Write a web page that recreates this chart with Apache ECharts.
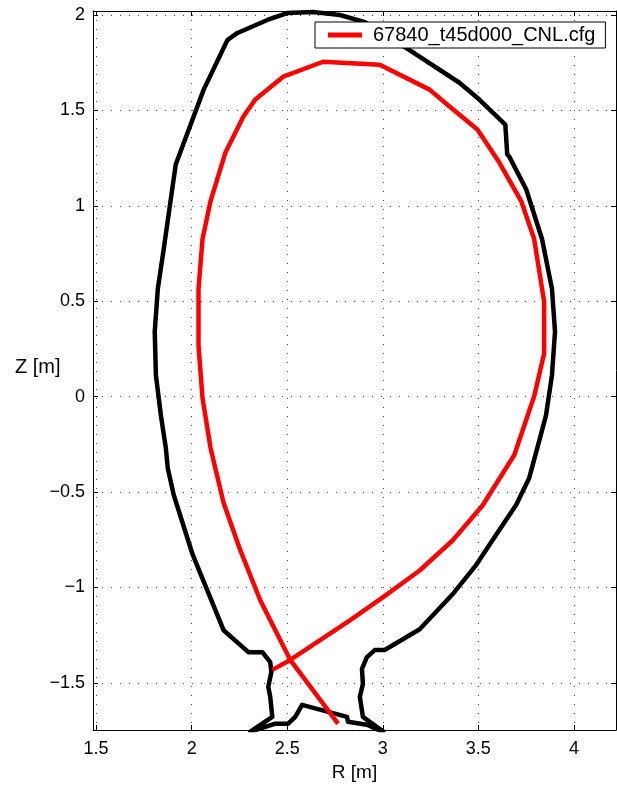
<!DOCTYPE html>
<html>
<head>
<meta charset="utf-8">
<script src="https://cdn.jsdelivr.net/npm/echarts@6/dist/echarts.min.js"></script>
<style>
html,body{margin:0;padding:0;background:#fff;}
#chart{width:617px;height:787px;}
</style>
</head>
<body>
<div id="chart"></div>
<script>
// Wall contour (black), R and Z in metres
const wallR = [3.010, 2.896, 2.880, 2.896, 2.891, 2.917, 2.958, 3.010, 3.193, 3.365, 3.490, 3.573, 3.698, 3.766, 3.818, 3.854, 3.885, 3.901, 3.885, 3.833, 3.750, 3.661, 3.651, 3.641, 3.505, 3.401, 3.130, 2.906, 2.776, 2.635, 2.500, 2.396, 2.240, 2.188, 2.063, 1.927, 1.917, 1.854, 1.823, 1.807, 1.813, 1.839, 1.865, 1.875, 1.906, 2.005, 2.167, 2.297, 2.370, 2.411, 2.417, 2.401, 2.411, 2.422, 2.307, 2.438, 2.505, 2.542, 2.578, 2.813, 2.818, 2.917, 3.010];
const wallZ = [-1.761, -1.678, -1.573, -1.506, -1.427, -1.365, -1.328, -1.328, -1.219, -1.036, -0.880, -0.754, -0.567, -0.426, -0.233, -0.097, 0.112, 0.341, 0.565, 0.826, 1.087, 1.259, 1.270, 1.426, 1.557, 1.645, 1.823, 1.963, 2.000, 2.016, 2.010, 1.974, 1.906, 1.870, 1.609, 1.244, 1.218, 0.774, 0.565, 0.341, 0.112, -0.097, -0.269, -0.374, -0.514, -0.827, -1.224, -1.339, -1.339, -1.391, -1.443, -1.521, -1.573, -1.678, -1.756, -1.714, -1.714, -1.678, -1.615, -1.678, -1.704, -1.719, -1.761];

// Last closed flux surface (red)
const lcfsName = '67840_t45d000_CNL.cfg';
const lcfsR = [2.422, 2.516, 2.828, 3.000, 3.193, 3.365, 3.521, 3.688, 3.792, 3.844, 3.844, 3.792, 3.724, 3.609, 3.495, 3.349, 3.245, 2.984, 2.688, 2.479, 2.333, 2.271, 2.177, 2.099, 2.057, 2.036, 2.036, 2.057, 2.099, 2.167, 2.255, 2.359, 2.516, 2.766];
const lcfsZ = [-1.432, -1.380, -1.172, -1.052, -0.911, -0.754, -0.572, -0.306, 0.002, 0.226, 0.498, 0.826, 1.025, 1.228, 1.400, 1.520, 1.609, 1.739, 1.755, 1.677, 1.557, 1.468, 1.280, 1.025, 0.826, 0.565, 0.268, -0.008, -0.269, -0.556, -0.806, -1.067, -1.380, -1.714];

// Tick values
const xTicks = [1.5, 2, 2.5, 3, 3.5, 4];
const yTicks = [-1.5, -1, -0.5, 0, 0.5, 1, 1.5, 2];

const xRange = [1.484, 4.22];
const yRange = [-1.747, 2.021];

const pair = (a, b) => a.map((v, i) => [v, b[i]]);
const fmt = v => String(v).replace('-', '\u2212');
const FONT = 'Liberation Sans';

const chart = echarts.init(document.getElementById('chart'), null, {renderer: 'canvas'});

const gridLine = {show: true, lineStyle: {color: '#444', width: 1, type: [1, 8]}};
const axisLine = {show: true, onZero: false, lineStyle: {color: '#000', width: 1}};

chart.setOption({
  animation: false,
  backgroundColor: '#fff',
  grid: {left: 93, right: 1, top: 11, bottom: 54, containLabel: false},
  legend: {
    data: [lcfsName],
    left: 315, top: 22,
    orient: 'vertical',
    backgroundColor: '#fff',
    borderColor: '#000', borderWidth: 1,
    padding: [3, 10, 3, 13],
    icon: 'rect', itemWidth: 34, itemHeight: 5,
    textStyle: {fontFamily: FONT, fontSize: 20, color: '#000', lineHeight: 20, padding: [0, 0, 0, 6]}
  },
  xAxis: [{
    type: 'value', min: xRange[0], max: xRange[1], position: 'bottom',
    axisLine: axisLine,
    axisTick: {show: true, inside: true, length: 5, customValues: xTicks, lineStyle: {color: '#000'}},
    axisLabel: {customValues: xTicks, formatter: fmt, margin: 10, fontFamily: FONT, fontSize: 18, color: '#000'},
    splitLine: gridLine,
    name: 'R [m]', nameLocation: 'middle', nameGap: 33,
    nameTextStyle: {fontFamily: FONT, fontSize: 19, color: '#000'}
  }, {
    type: 'value', min: xRange[0], max: xRange[1], position: 'top',
    axisLine: axisLine,
    axisTick: {show: true, inside: true, length: 5, customValues: xTicks, lineStyle: {color: '#000'}},
    axisLabel: {show: false},
    splitLine: {show: false}
  }],
  yAxis: [{
    type: 'value', min: yRange[0], max: yRange[1], position: 'left',
    axisLine: axisLine,
    axisTick: {show: true, inside: true, length: 5, customValues: yTicks, lineStyle: {color: '#000'}},
    axisLabel: {customValues: yTicks, formatter: fmt, margin: 8, fontFamily: FONT, fontSize: 18, color: '#000'},
    splitLine: gridLine
  }, {
    type: 'value', min: yRange[0], max: yRange[1], position: 'right',
    axisLine: axisLine,
    axisTick: {show: true, inside: true, length: 5, customValues: yTicks, lineStyle: {color: '#000'}},
    axisLabel: {show: false},
    splitLine: {show: false}
  }],
  graphic: [{
    type: 'text', left: 15, top: 357,
    style: {text: 'Z [m]', fontFamily: FONT, fontSize: 20, fill: '#000'}
  }],
  series: [{
    name: 'wall', type: 'line', data: pair(wallR, wallZ),
    showSymbol: false, symbol: 'none', clip: true,
    lineStyle: {color: '#000', width: 4.5, join: 'round'},
    z: 2
  }, {
    name: lcfsName, type: 'line', data: pair(lcfsR, lcfsZ),
    showSymbol: false, symbol: 'none', clip: true,
    lineStyle: {color: '#ff0000', width: 4.5, join: 'round'},
    itemStyle: {color: '#ff0000'},
    z: 3
  }]
});
</script>
</body>
</html>
